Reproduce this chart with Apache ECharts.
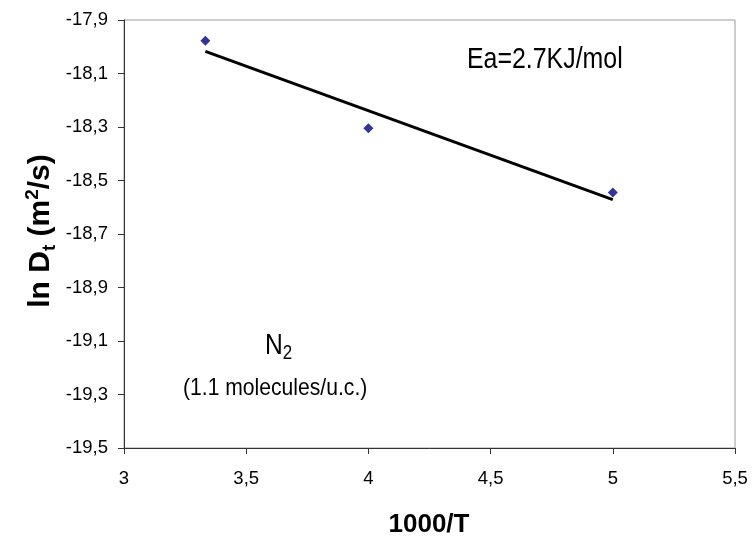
<!DOCTYPE html>
<html>
<head>
<meta charset="utf-8">
<title>ln Dt vs 1000/T</title>
<script src="https://cdn.jsdelivr.net/npm/echarts@6/dist/echarts.min.js"></script>
<style>
  html, body { margin: 0; padding: 0; background: #fff; }
  #chart { width: 755px; height: 537px; }
</style>
</head>
<body>
<div id="chart"></div>
<script>
// Measured diffusivities of N2 (1.1 molecules/u.c.)
const invT = [3.333, 4.0, 5.0];          // 1000/T
const lnD = [-17.978, -18.305, -18.545];  // ln Dt (m2/s)

// Axis ticks
const xTicks = [3, 3.5, 4, 4.5, 5, 5.5];
const yTicks = [-19.5, -19.3, -19.1, -18.9, -18.7, -18.5, -18.3, -18.1, -17.9];

const FONT = "'Liberation Sans', Arial, sans-serif";
const comma = v => String(Math.round(v * 10) / 10).replace('.', ',');

// Least-squares Arrhenius fit through the measured points
function linearFit(xs, ys) {
  const n = xs.length;
  const mx = xs.reduce((a, b) => a + b, 0) / n;
  const my = ys.reduce((a, b) => a + b, 0) / n;
  let sxy = 0, sxx = 0;
  for (let i = 0; i < n; i++) {
    sxy += (xs[i] - mx) * (ys[i] - my);
    sxx += (xs[i] - mx) * (xs[i] - mx);
  }
  const slope = sxy / sxx;
  return x => my + slope * (x - mx);
}
const fit = linearFit(invT, lnD);
const xMin = Math.min(...invT), xMax = Math.max(...invT);
const fitLine = [[xMin, fit(xMin)], [xMax, fit(xMax)]];

const chart = echarts.init(document.getElementById('chart'), null, { renderer: 'canvas' });

chart.setOption({
  animation: false,
  backgroundColor: '#ffffff',
  grid: {
    left: 124, right: 20, top: 20, bottom: 89,
    show: true, borderColor: '#9a9a9a', borderWidth: 1, backgroundColor: '#ffffff'
  },
  xAxis: {
    type: 'value', min: 3, max: 5.5, interval: 0.5,
    axisLine: { show: true, onZero: false, lineStyle: { color: '#333', width: 1 } },
    axisTick: { show: true, inside: false, length: 6, customValues: xTicks, lineStyle: { color: '#333' } },
    axisLabel: { customValues: xTicks, formatter: comma, fontFamily: FONT, fontSize: 18.5, color: '#000', margin: 21 },
    splitLine: { show: false }
  },
  yAxis: {
    type: 'value', min: -19.5, max: -17.9,
    axisLine: { show: true, onZero: false, lineStyle: { color: '#333', width: 1 } },
    axisTick: { show: true, inside: false, length: 6, customValues: yTicks, lineStyle: { color: '#333' } },
    axisLabel: { customValues: yTicks, formatter: comma, fontFamily: FONT, fontSize: 18.5, color: '#000', margin: 16 },
    splitLine: { show: false }
  },
  series: [
    {
      name: 'fit', type: 'line', data: fitLine,
      symbol: 'none', lineStyle: { color: '#000', width: 3 }, z: 2
    },
    {
      name: 'N2', type: 'scatter', data: invT.map((x, i) => [x, lnD[i]]),
      symbol: 'diamond', symbolSize: 10, itemStyle: { color: '#000080' }, z: 3
    }
  ],
  graphic: [
    {
      type: 'text', x: 467, y: 60, scaleX: 0.83,
      style: { text: 'Ea=2.7KJ/mol', font: '30px ' + FONT, fill: '#000', align: 'left', verticalAlign: 'middle' }
    },
    {
      type: 'text', x: 265, y: 346, scaleX: 0.85,
      style: {
        text: '{a|N}{s|2}', align: 'left', verticalAlign: 'middle',
        rich: {
          a: { fontFamily: FONT, fontSize: 29, lineHeight: 34, color: '#000' },
          s: { fontFamily: FONT, fontSize: 20, lineHeight: 20, verticalAlign: 'bottom', color: '#000' }
        }
      }
    },
    {
      type: 'text', x: 183, y: 388, scaleX: 0.88,
      style: { text: '(1.1 molecules/u.c.)', font: '24px ' + FONT, fill: '#000', align: 'left', verticalAlign: 'middle' }
    },
    {
      type: 'text', x: 429, y: 525,
      style: { text: '1000/T', font: 'bold 26px ' + FONT, fill: '#000', align: 'center', verticalAlign: 'middle' }
    },
    {
      type: 'text', x: 41, y: 231, rotation: Math.PI / 2,
      style: {
        text: '{a|ln D}{s|t}{a| (m}{p|2}{a|/s)}', align: 'center', verticalAlign: 'middle',
        rich: {
          a: { fontFamily: FONT, fontWeight: 'bold', fontSize: 30, lineHeight: 36, color: '#000' },
          s: { fontFamily: FONT, fontWeight: 'bold', fontSize: 19, lineHeight: 22, verticalAlign: 'bottom', color: '#000' },
          p: { fontFamily: FONT, fontWeight: 'bold', fontSize: 19, lineHeight: 22, verticalAlign: 'top', color: '#000' }
        }
      }
    }
  ]
});
</script>
</body>
</html>
